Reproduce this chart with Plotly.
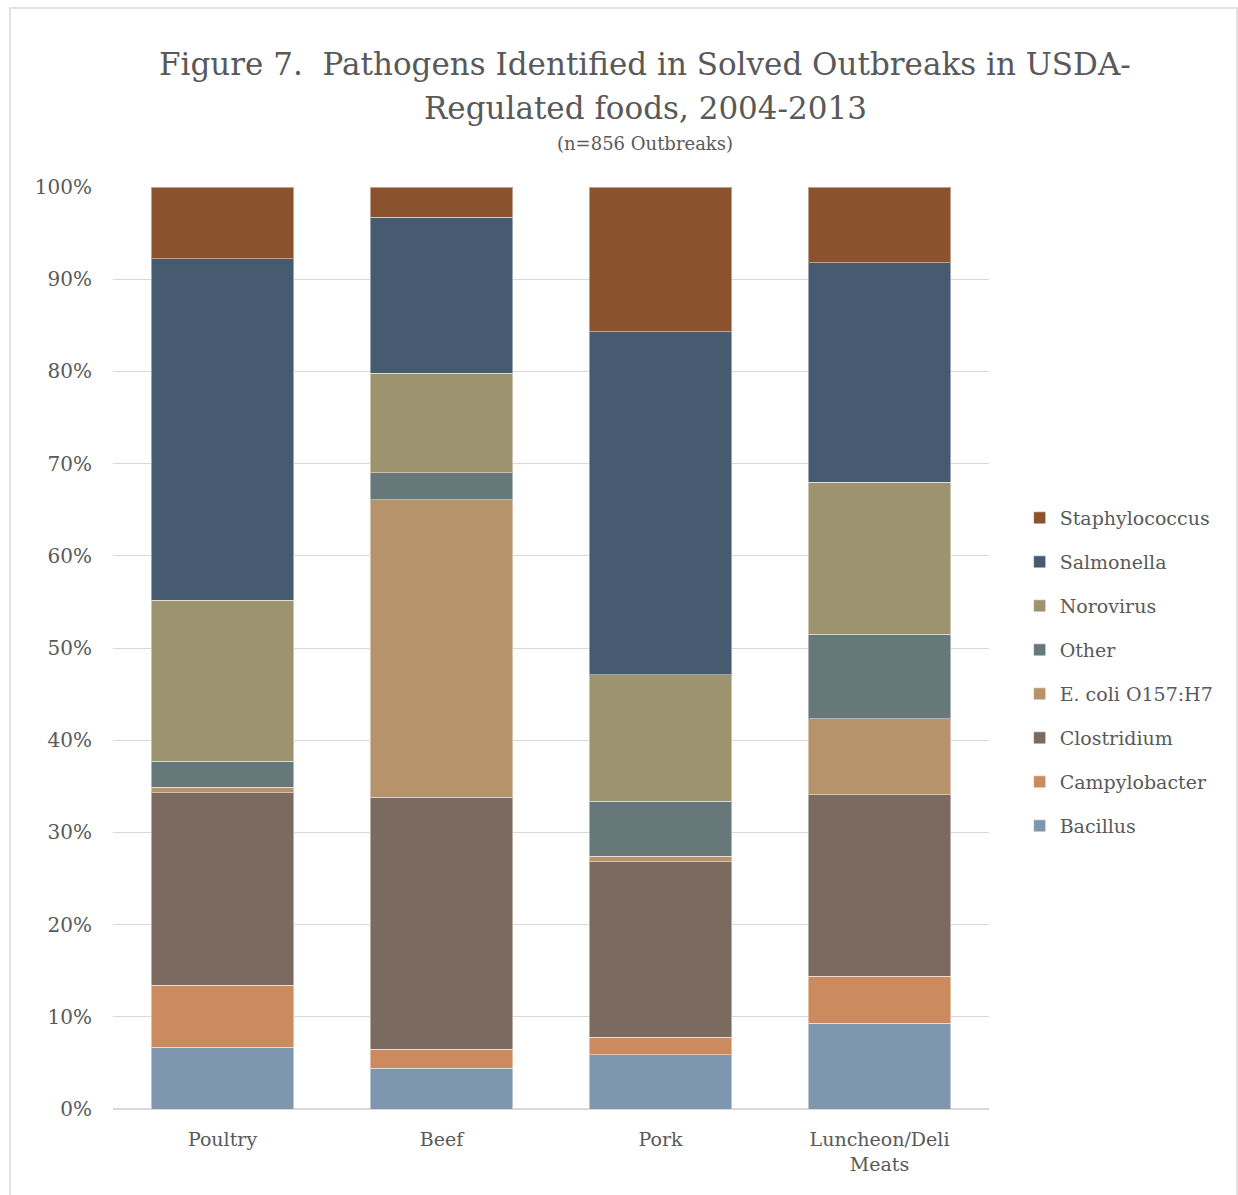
import plotly.graph_objects as go

categories = ["Poultry", "Beef", "Pork", "Luncheon/Deli<br>Meats"]

bacillus = [6.7, 4.4, 5.9, 9.3]
campylobacter = [6.7, 2.1, 1.9, 5.1]
clostridium = [20.9, 27.3, 19.0, 19.7]
ecoli = [0.6, 32.3, 0.6, 8.2]
other = [2.8, 2.9, 6.0, 9.2]
norovirus = [17.5, 10.8, 13.7, 16.5]
salmonella = [37.0, 16.9, 37.2, 23.8]
staphylococcus = [7.8, 3.3, 15.7, 8.2]

series = [
    ("Bacillus", bacillus, "#7F97AE"),
    ("Campylobacter", campylobacter, "#CC8B5E"),
    ("Clostridium", clostridium, "#7B6A5F"),
    ("E. coli O157:H7", ecoli, "#B6936A"),
    ("Other", other, "#66787A"),
    ("Norovirus", norovirus, "#9D936E"),
    ("Salmonella", salmonella, "#465B6F"),
    ("Staphylococcus", staphylococcus, "#8A532D"),
]

FONT = "DejaVu Serif"
GREY = "#595959"

fig = go.Figure()
n = len(series)
for i, (name, vals, col) in enumerate(series):
    fig.add_trace(go.Bar(
        x=categories, y=[v / 100 for v in vals], name=name,
        marker=dict(color=col, line=dict(color="rgba(255,255,255,0.45)", width=1)),
        legendgroup=f"g{i}", legendrank=n - i,
    ))

fig.update_layout(
    barmode="stack",
    bargap=0.35,
    width=1238, height=1195,
    margin=dict(l=113, r=249, t=187, b=86),
    paper_bgcolor="white", plot_bgcolor="white",
    font=dict(family=FONT, color=GREY, size=19),
    showlegend=True,
    legend=dict(
        traceorder="grouped", tracegroupgap=16.3,
        x=1.035, xanchor="left", y=0.474, yanchor="middle",
        font=dict(size=19, color=GREY), bgcolor="rgba(0,0,0,0)",
    ),
    yaxis=dict(
        range=[0, 1], tickvals=[i / 10 for i in range(11)], tickformat=".0%",
        showgrid=True, gridcolor="#D9D9D9", gridwidth=1,
        zeroline=True, zerolinecolor="#D9D9D9", zerolinewidth=1.5,
        showline=False, ticks="", ticklabelstandoff=20,
        tickfont=dict(size=20, color=GREY),
    ),
    xaxis=dict(
        showline=False, ticks="", tickfont=dict(size=19, color=GREY),
        showgrid=False, ticklabelstandoff=17,
    ),
    annotations=[
        dict(text="Figure 7.  Pathogens Identified in Solved Outbreaks in USDA-",
             xref="paper", yref="paper", x=(645 - 113) / 876, y=(1109 - 44) / 922,
             xanchor="center", yanchor="top", showarrow=False,
             font=dict(size=31, color=GREY, family=FONT)),
        dict(text="Regulated foods, 2004-2013",
             xref="paper", yref="paper", x=(645 - 113) / 876, y=(1109 - 88) / 922,
             xanchor="center", yanchor="top", showarrow=False,
             font=dict(size=31, color=GREY, family=FONT)),
        dict(text="(n=856 Outbreaks)",
             xref="paper", yref="paper", x=(645 - 113) / 876, y=(1109 - 131) / 922,
             xanchor="center", yanchor="top", showarrow=False,
             font=dict(size=18, color=GREY, family=FONT)),
    ],
    shapes=[
        dict(type="rect", xref="paper", yref="paper",
             x0=(10 - 113) / 876, x1=(1237 - 113) / 876,
             y0=(1109 - 1200) / 922, y1=(1109 - 8) / 922,
             line=dict(color="#D9D9D9", width=1.5), fillcolor="rgba(0,0,0,0)", layer="below"),
    ],
)

fig.write_html("out.html")
